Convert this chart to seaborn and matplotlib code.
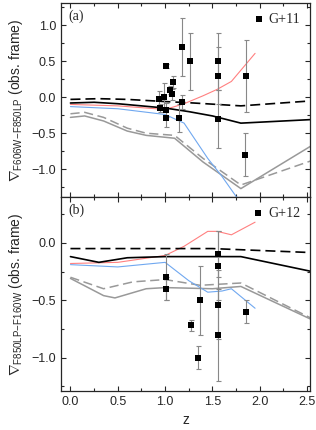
import numpy as np
import pandas as pd
import matplotlib
matplotlib.use("Agg")
import matplotlib.pyplot as plt
import seaborn as sns
from matplotlib.ticker import MultipleLocator

# ---- panel (a): G+11 data ----
za = [0.93, 0.95, 0.99, 1.005, 1.005, 1.005, 1.05, 1.076, 1.086, 1.15, 1.18, 1.18, 1.26, 1.555, 1.555, 1.555, 1.855, 1.845]
ga = [-0.02, -0.15, 0.0, 0.43, -0.18, -0.29, 0.10, 0.04, 0.21, -0.29, 0.70, -0.07, 0.50, 0.50, 0.30, -0.30, 0.30, -0.80]
ea = [0.10, 0.05, 0.20, 0.03, 0.10, 0.12, 0.05, 0.08, 0.08, 0.20, 0.40, 0.10, 0.40, 0.40, 0.40, 0.40, 0.50, 0.30]

# panel (a) model tracks
a_blk_z = [0, 0.25, 0.5, 0.75, 1.0, 1.25, 1.5, 1.8, 2.55]
a_blk_y = [-0.08, -0.07, -0.09, -0.12, -0.15, -0.20, -0.26, -0.36, -0.31]
a_blkd_z = [0, 0.3, 0.6, 1.0, 1.3, 1.55, 1.8, 2.55]
a_blkd_y = [-0.03, -0.02, -0.03, -0.06, -0.08, -0.10, -0.12, -0.05]
a_red_z = [0, 0.5, 1.0, 1.2, 1.4, 1.55, 1.7, 1.95]
a_red_y = [-0.10, -0.12, -0.17, -0.09, 0.02, 0.11, 0.22, 0.61]
a_blu_z = [0, 0.5, 1.0, 1.2, 1.45, 1.6, 1.75, 1.85]
a_blu_y = [-0.13, -0.16, -0.24, -0.36, -0.85, -1.10, -1.38, -1.50]
a_gry_z = [0, 0.15, 0.35, 0.6, 0.8, 1.1, 1.4, 1.8, 2.55]
a_gry_y = [-0.28, -0.26, -0.33, -0.47, -0.53, -0.57, -0.90, -1.27, -0.67]
a_gryd_z = [0, 0.15, 0.35, 0.6, 0.8, 1.1, 1.4, 1.8, 2.55]
a_gryd_y = [-0.23, -0.21, -0.28, -0.43, -0.50, -0.53, -0.85, -1.22, -0.88]

# ---- panel (b): G+12 data ----
zb = [1.005, 1.005, 1.273, 1.343, 1.365, 1.555, 1.555, 1.555, 1.555, 1.855]
gb = [-0.30, -0.40, -0.72, -1.00, -0.50, -0.10, -0.20, -0.54, -0.80, -0.60]
eb = [0.20, 0.10, 0.05, 0.10, 0.30, 0.20, 0.30, 0.30, 0.40, 0.10]

b_blk_z = [0, 0.3, 0.6, 1.0, 1.5, 1.8, 2.55]
b_blk_y = [-0.12, -0.17, -0.13, -0.12, -0.12, -0.12, -0.25]
b_blkd_z = [0, 0.5, 1.0, 1.5, 1.8, 2.55]
b_blkd_y = [-0.05, -0.05, -0.05, -0.05, -0.06, -0.085]
b_red_z = [0, 0.5, 1.0, 1.2, 1.45, 1.55, 1.7, 1.95]
b_red_y = [-0.18, -0.17, -0.11, -0.03, 0.10, 0.10, 0.07, 0.18]
b_blu_z = [0, 0.5, 1.0, 1.25, 1.45, 1.6, 1.7, 1.95]
b_blu_y = [-0.19, -0.21, -0.17, -0.33, -0.43, -0.42, -0.40, -0.57]
b_gry_z = [0, 0.35, 0.47, 0.8, 1.0, 1.5, 1.8, 2.55]
b_gry_y = [-0.31, -0.46, -0.48, -0.40, -0.39, -0.40, -0.38, -0.67]
b_gryd_z = [0, 0.35, 0.66, 1.0, 1.37, 1.8, 2.55]
b_gryd_y = [-0.30, -0.40, -0.34, -0.32, -0.37, -0.35, -0.66]

sns.set_style("ticks")
plt.rcParams["font.family"] = ["Liberation Sans", "DejaVu Sans"]
plt.rcParams["mathtext.fontset"] = "custom"
plt.rcParams["mathtext.rm"] = "Liberation Sans"
plt.rcParams["mathtext.it"] = "Liberation Sans:italic"
plt.rcParams["xtick.direction"] = "in"
plt.rcParams["ytick.direction"] = "in"

fig = plt.figure(figsize=(3.16, 4.30), dpi=100)
ax1 = fig.add_axes([0.193, 0.542, 0.788, 0.451])
ax2 = fig.add_axes([0.193, 0.091, 0.788, 0.451])

RED = "#ff8080"
BLUE = "#70a8f0"
GRAY = "#999999"


def draw(ax, tracks, z, g, e, name, tag):
    for zz, yy, col, ls, lw in tracks:
        sns.lineplot(x=zz, y=yy, ax=ax, color=col, linestyle=ls, lw=lw, sort=False,
                     estimator=None, legend=False)
    ax.errorbar(z, g, yerr=e, fmt="none", ecolor="#888888", elinewidth=0.8,
                capsize=1.8, capthick=0.8, zorder=3)
    df = pd.DataFrame({"z": z, "g": g})
    sns.scatterplot(data=df, x="z", y="g", ax=ax, marker="s", s=15, color="black",
                    edgecolor="black", linewidth=0, zorder=4, label=name)
    ax.legend(loc="upper right", frameon=False, handletextpad=0.2, handlelength=1.0,
              borderaxespad=0.3, prop={"family": "Liberation Serif", "size": 10})
    ax.text(0.03, 0.965, tag, transform=ax.transAxes, ha="left", va="top",
            family="Liberation Serif", fontsize=10)
    ax.set_xlim(-0.1, 2.53)
    ax.xaxis.set_major_locator(MultipleLocator(0.5))
    ax.xaxis.set_minor_locator(MultipleLocator(0.25))
    ax.yaxis.set_major_locator(MultipleLocator(0.5))
    ax.yaxis.set_minor_locator(MultipleLocator(0.25))
    ax.tick_params(which="both", top=True, right=True, labelsize=9, width=0.8)
    ax.tick_params(which="major", length=3.5)
    ax.tick_params(which="minor", length=2)
    for sp in ax.spines.values():
        sp.set_linewidth(0.9)


tracks_a = [
    (a_gry_z, a_gry_y, GRAY, "-", 1.1),
    (a_gryd_z, a_gryd_y, GRAY, (0, (6, 3)), 1.1),
    (a_blu_z, a_blu_y, BLUE, "-", 0.8),
    (a_red_z, a_red_y, RED, "-", 0.8),
    (a_blk_z, a_blk_y, "black", "-", 1.2),
    (a_blkd_z, a_blkd_y, "black", (0, (6, 3)), 1.2),
]
tracks_b = [
    (b_gry_z, b_gry_y, GRAY, "-", 1.1),
    (b_gryd_z, b_gryd_y, GRAY, (0, (6, 3)), 1.1),
    (b_blu_z, b_blu_y, BLUE, "-", 0.8),
    (b_red_z, b_red_y, RED, "-", 0.8),
    (b_blk_z, b_blk_y, "black", "-", 1.2),
    (b_blkd_z, b_blkd_y, "black", (0, (6, 3)), 1.2),
]

draw(ax1, tracks_a, za, ga, ea, "G+11", "(a)")
draw(ax2, tracks_b, zb, gb, eb, "G+12", "(b)")

ax1.set_ylim(-1.386, 1.31)
ax2.set_ylim(-1.29, 0.40)
ax1.tick_params(labelbottom=False)
ax1.set_xlabel("")
ax2.set_xlabel("z", fontsize=10)
ax1.set_ylabel(r"$\nabla_{\rm F606W\!-\!F850LP}$ (obs. frame)", fontsize=10, labelpad=5)
ax2.set_ylabel(r"$\nabla_{\rm F850LP\!-\!F160W}$ (obs. frame)", fontsize=10, labelpad=5)

fig.savefig("out.png", dpi=100)
